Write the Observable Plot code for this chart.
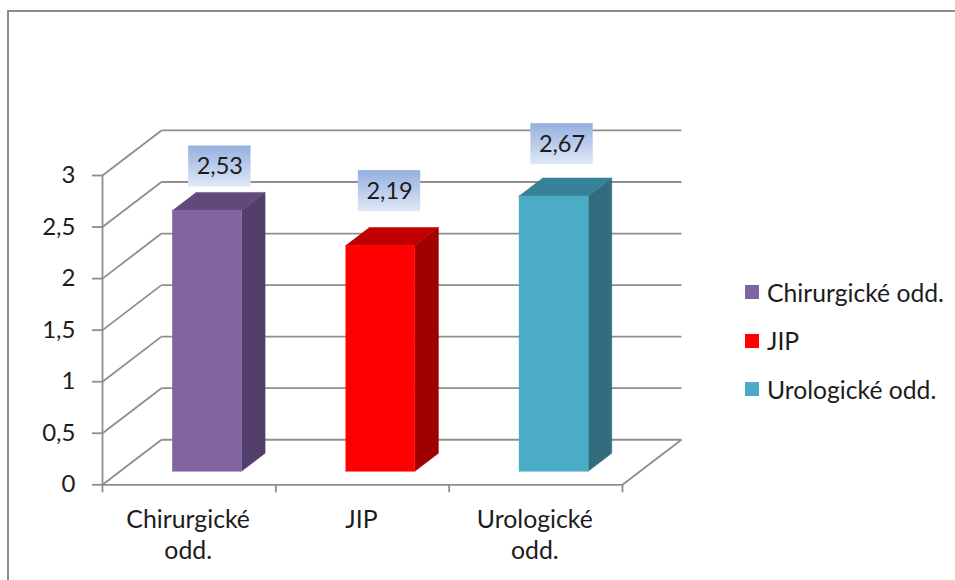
<!DOCTYPE html>
<html lang="cs">
<head>
<meta charset="utf-8">
<script src="https://cdn.jsdelivr.net/npm/d3@7"></script>
<script src="https://cdn.jsdelivr.net/npm/@observablehq/plot@0.6"></script>
<style>
  html, body { margin: 0; background: #fff; overflow: hidden; }
  body { width: 955px; height: 580px; position: relative; font-family: Lato, sans-serif; color: #1c1c1c; }
  #frame { position: absolute; left: 7px; top: 10px; right: -4px; bottom: -4px; border: 2px solid #8c8c8c; box-sizing: border-box; }
  #chart { position: absolute; left: 0; top: 0; }
  #legend { position: absolute; left: 745px; top: 268px; font-size: 24.7px; }
  .entry { display: flex; align-items: center; height: 48.5px; white-space: nowrap; }
  .swatch { width: 14px; height: 14px; margin-right: 8px; flex: none; }
</style>
</head>
<body>
<div id="frame"></div>
<div id="chart"></div>
<div id="legend"></div>
<script>
// Hospital wards and their values
const wards = ["Chirurgické odd.", "JIP", "Urologické odd."];
const axisLabels = ["Chirurgické\nodd.", "JIP", "Urologické\nodd."];
const values = [2.53, 2.19, 2.67];
const valueLabels = ["2,53", "2,19", "2,67"];
const yTicks = [0, 0.5, 1, 1.5, 2, 2.5, 3];

// Face colours of each column: front, top, side
const frontColors = ["#8064a2", "#ff0000", "#4bacc6"];
const topColors = ["#604a7b", "#c00000", "#378299"];
const sideColors = ["#533f6c", "#a00000", "#336b7f"];

// Oblique projection: full depth shifts a point right and up, in data units
const depthX = 0.34;
const depthY = 0.437;
const project = (x, v, d) => ({x: x + d * depthX, y: v + d * depthY});

// Columns stand between these fractions of the floor depth and of each category
const nearDepth = 0.3, farDepth = 0.7;
const inset = 0.3;

// Value labels sit on gradient boxes, lifted clear of their columns
const labelShift = [0.177, 0.156, 0.151];
const labelLift = [0.557, 0.658, 0.634];
const boxWidth = 0.36, boxHeight = 0.398;

const gridStroke = {stroke: "#8e8e8e", strokeWidth: 1.8};
const font = "Lato, sans-serif";

function columnFaces(v, i) {
  const left = i + inset, right = i + 1 - inset;
  const n = (x, y) => project(x, y, nearDepth);
  const f = (x, y) => project(x, y, farDepth);
  return [
    {color: sideColors[i], points: [n(right, 0), f(right, 0), f(right, v), n(right, v)]},
    {color: topColors[i], points: [n(left, v), n(right, v), f(right, v), f(left, v)]},
    {color: frontColors[i], points: [n(left, 0), n(right, 0), n(right, v), n(left, v)]}
  ];
}

// Gradient definition shared by the value label boxes
const gradientDefs = () => {
  const svg = d3.create("svg:defs");
  const g = svg.append("linearGradient")
    .attr("id", "labelFill").attr("x1", 0).attr("y1", 0).attr("x2", 0).attr("y2", 1);
  g.append("stop").attr("offset", "0%").attr("stop-color", "#94afe0");
  g.append("stop").attr("offset", "100%").attr("stop-color", "#e0e8f5");
  return svg.node();
};

const labelRows = values.map((v, i) => ({
  x: i + 0.5 + labelShift[i],
  y: v + labelLift[i],
  text: valueLabels[i]
}));

const faces = values.flatMap(columnFaces);

const chart = Plot.plot({
  width: 730,
  height: 580,
  marginLeft: 102,
  marginRight: 108,
  marginTop: 175,
  marginBottom: 95.7,
  style: {background: "transparent", fontFamily: font},
  x: {type: "linear", domain: [0, 3], axis: null},
  y: {type: "linear", domain: [0, 3], axis: null},
  marks: [
    gradientDefs,
    // Back wall gridlines
    Plot.link(yTicks, {
      x1: () => project(0, 0, 1).x, x2: () => project(3, 0, 1).x,
      y1: (t) => project(0, t, 1).y, y2: (t) => project(0, t, 1).y,
      ...gridStroke
    }),
    // Side wall lines running from the value axis to the back wall
    Plot.link(yTicks, {
      x1: () => 0, x2: () => project(0, 0, 1).x,
      y1: (t) => t, y2: (t) => project(0, t, 1).y,
      ...gridStroke
    }),
    // Right-hand edge of the floor
    Plot.link([3], {
      x1: (x) => x, x2: (x) => project(x, 0, 1).x,
      y1: () => 0, y2: () => project(0, 0, 1).y,
      ...gridStroke
    }),
    // Front edge of the floor and the value axis
    Plot.ruleY([0], {x1: 0, x2: 3, ...gridStroke}),
    Plot.ruleX([0], {y1: 0, y2: 3, ...gridStroke}),
    Plot.axisY({
      ticks: yTicks,
      tickSize: 10,
      tickPadding: 17,
      tickFormat: (t) => String(t).replace(".", ","),
      fontSize: 24,
      fill: "#1c1c1c",
      label: null,
      ...gridStroke
    }),
    Plot.axisX({
      ticks: [0, 1, 2, 3],
      tickSize: 8,
      tickFormat: () => "",
      label: null,
      ...gridStroke
    }),
    // Category labels below the axis
    Plot.text(axisLabels, {
      x: (d, i) => i + 0.5,
      y: () => 0,
      text: (d) => d,
      dx: -1,
      dy: 21,
      lineAnchor: "top",
      lineHeight: 1.25,
      fontSize: 24.8,
      fill: "#1c1c1c"
    }),
    // Columns
    ...faces.map((face) =>
      Plot.line(face.points, {x: "x", y: "y", fill: face.color, stroke: face.color, strokeWidth: 0.5})
    ),
    // Value labels
    Plot.rect(labelRows, {
      x1: (d) => d.x - boxWidth / 2, x2: (d) => d.x + boxWidth / 2,
      y1: (d) => d.y - boxHeight / 2, y2: (d) => d.y + boxHeight / 2,
      fill: "url(#labelFill)"
    }),
    Plot.text(labelRows, {x: "x", y: "y", text: "text", fontSize: 23.5, fill: "#1c1c1c"})
  ]
});
document.getElementById("chart").append(chart);

// Legend with one entry per ward
const legend = d3.select("#legend");
wards.forEach((name, i) => {
  const row = legend.append("div").attr("class", "entry");
  row.append("span").attr("class", "swatch").style("background", frontColors[i]);
  row.append("span").text(name);
});
</script>
</body>
</html>
